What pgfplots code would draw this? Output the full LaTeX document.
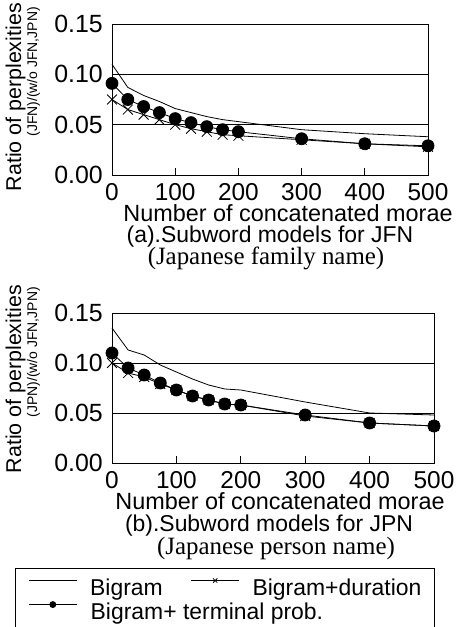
\documentclass[border=0pt]{standalone}
\usepackage{fontspec}
\setmainfont{Liberation Sans}
\newfontfamily\timesfont{Liberation Serif}
\usepackage{pgfplots}
\usepackage{pgfplotstable}
\pgfplotsset{compat=1.18}

% (a) family names
\pgfplotstableread{
x    big    dur    term
0    0.110  0.075  0.091
25   0.087  0.065  0.075
50   0.079  0.060  0.068
75   0.073  0.055  0.062
100  0.066  0.050  0.056
125  0.062  0.046  0.052
150  0.058  0.043  0.048
175  0.055  0.040  0.045
200  0.053  0.039  0.043
300  0.045  0.035  0.036
400  0.041  0.031  0.031
500  0.038  0.028  0.029
}\tabA

% (b) person names
\pgfplotstableread{
x    big    dur    term
0    0.135  0.100  0.110
25   0.113  0.090  0.095
50   0.108  0.086  0.088
75   0.098  0.079  0.080
100  0.091  0.073  0.073
125  0.084  0.067  0.067
150  0.078  0.063  0.063
175  0.074  0.059  0.059
200  0.073  0.058  0.058
300  0.061  0.047  0.048
400  0.050  0.040  0.040
500  0.048  0.037  0.037
}\tabB

\pgfplotsset{
  ratio/.style={
    scale only axis, anchor=south west,
    xmin=0, xmax=500, ymin=0, ymax=0.15,
    xtick={0,100,200,300,400,500},
    ytick={0,0.05,0.10,0.15},
    ymajorgrids=true,
    major grid style={black, line width=0.8bp},
    axis line style={line width=0.8bp},
    tick align=inside, xtick pos=lower,
    major tick length=7bp,
    xtick style={black, line width=0.8bp},
    ytick style={draw=none},
    /pgf/number format/assume math mode=true,
    yticklabel style={/pgf/number format/fixed, /pgf/number format/fixed zerofill,
      /pgf/number format/precision=2, anchor=east, inner sep=0pt, xshift=-9bp,
      font=\fontsize{25}{25}\selectfont},
    xticklabel style={anchor=north, inner sep=0pt, yshift=-8bp,
      font=\fontsize{24.5}{25}\selectfont},
    clip=false,
    legend image code/.code={\draw[mark repeat=2,mark phase=2,#1,mark size=3bp]
      plot coordinates {(0bp,7bp) (24bp,7bp) (48bp,7bp)};},
  },
  bigram/.style={black, line width=0.8bp, mark=none},
  dur/.style={black, line width=0.8bp, mark=x, mark size=7bp},
  term/.style={black, line width=0.8bp, mark=*, mark size=6bp},
}

\begin{document}
\begin{tikzpicture}
\begin{axis}[ratio, at={(112bp,452bp)}, width=316bp, height=151bp]
\addplot[bigram] table[x=x, y=big] {\tabA};
\addplot[dur] table[x=x, y=dur] {\tabA};
\addplot[term] table[x=x, y=term] {\tabA};
\end{axis}

\begin{axis}[ratio, at={(112bp,164bp)}, width=322bp, height=150bp,
  legend columns=2,
  legend style={at={(-0.3012,-0.7)}, anchor=north west, draw=black,
    line width=0.8bp, font=\fontsize{23}{25}\selectfont,
    inner xsep=13bp, inner ysep=10bp, row sep=5bp,
    nodes={inner sep=0pt},
    /tikz/every odd column/.append style={column sep=13bp},
    /tikz/every even column/.append style={column sep=28bp}},
  legend cell align=left]
\addplot[bigram] table[x=x, y=big] {\tabB};
\addlegendentry{Bigram}
\addplot[dur] table[x=x, y=dur] {\tabB};
\addlegendentry{Bigram+duration}
\addplot[term] table[x=x, y=term] {\tabB};
\addlegendentry{\rlap{Bigram+ terminal prob.}}
\end{axis}

% labels of (a)
\node[rotate=90, anchor=base east, inner sep=0pt, font=\fontsize{21.5}{22}\selectfont]
  at (21bp,624bp) {Ratio of perplexities};
\node[rotate=90, anchor=base east, inner sep=0pt, font=\fontsize{14}{14}\selectfont]
  at (37bp,620bp) {(JFN)/(w/o JFN,JPN)};
\node[anchor=base, inner sep=0pt, font=\fontsize{23.5}{24}\selectfont]
  at (288bp,405bp) {Number of concatenated morae};
\node[anchor=base, inner sep=0pt, font=\fontsize{23}{24}\selectfont]
  at (270bp,384bp) {(a).Subword models for JFN};
\node[anchor=base, inner sep=0pt, font=\timesfont\fontsize{25}{26}\selectfont]
  at (266bp,362bp) {(Japanese family name)};

% labels of (b)
\node[rotate=90, anchor=base east, inner sep=0pt, font=\fontsize{21.5}{22}\selectfont]
  at (21bp,342bp) {Ratio of perplexities};
\node[rotate=90, anchor=base east, inner sep=0pt, font=\fontsize{14}{14}\selectfont]
  at (37bp,340bp) {(JPN)/(w/o JFN,JPN)};
\node[anchor=base, inner sep=0pt, font=\fontsize{23.5}{24}\selectfont]
  at (280bp,117bp) {Number of concatenated morae};
\node[anchor=base, inner sep=0pt, font=\fontsize{23}{24}\selectfont]
  at (269bp,95bp) {(b).Subword models for JPN};
\node[anchor=base, inner sep=0pt, font=\timesfont\fontsize{25}{26}\selectfont]
  at (276bp,72bp) {(Japanese person name)};

\pgfresetboundingbox
\useasboundingbox (0bp,0bp) rectangle (461bp,627bp);
\end{tikzpicture}
\end{document}
